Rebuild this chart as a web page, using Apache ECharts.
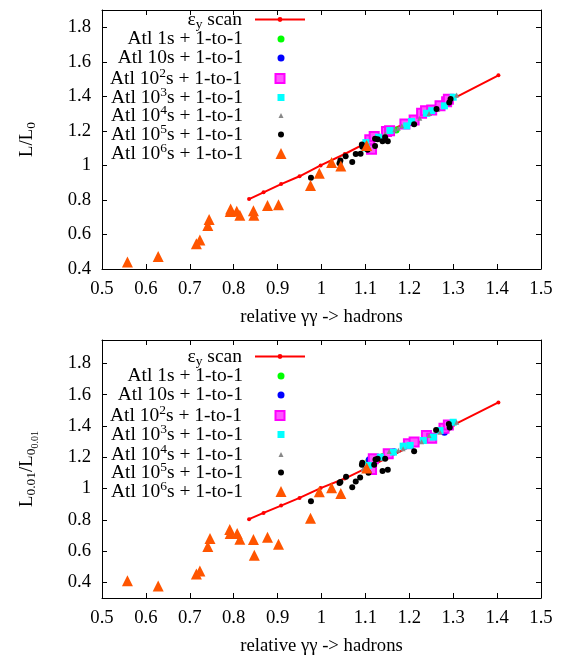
<!DOCTYPE html>
<html><head><meta charset="utf-8">
<script src="https://cdn.jsdelivr.net/npm/echarts@6/dist/echarts.min.js"></script>
<style>html,body{margin:0;padding:0;background:#fff}#c{width:564px;height:657px}</style>
</head><body><div id="c"></div>
<script>
// ---------- tick labels ----------
const xTicks = [0.5, 0.6, 0.7, 0.8, 0.9, 1.0, 1.1, 1.2, 1.3, 1.4, 1.5];
const yTicks = [0.4, 0.6, 0.8, 1.0, 1.2, 1.4, 1.6, 1.8];
const seriesNames = ['ε_y scan', 'Atl 1s + 1-to-1', 'Atl 10s + 1-to-1', 'Atl 10^2s + 1-to-1',
  'Atl 10^3s + 1-to-1', 'Atl 10^4s + 1-to-1', 'Atl 10^5s + 1-to-1', 'Atl 10^6s + 1-to-1'];

// ---------- eps_y scan ----------
const scanX    = [0.835, 0.868, 0.908, 0.950, 0.998, 1.053, 1.100, 1.150, 1.200, 1.250, 1.300, 1.403];
const scanTopY = [0.805, 0.844, 0.892, 0.937, 1.000, 1.066, 1.127, 1.192, 1.257, 1.322, 1.387, 1.522];
const scanBotY = [0.804, 0.844, 0.891, 0.940, 1.003, 1.064, 1.128, 1.197, 1.267, 1.336, 1.406, 1.551];

// ---------- top panel: L/L0 ----------
const top1s = [[1.108,1.148],[1.130,1.165],[1.170,1.205],[1.205,1.250],[1.250,1.310],[1.285,1.360]];
const top10s = [[1.109,1.150],[1.125,1.163],[1.160,1.200],[1.195,1.240],[1.209,1.245],[1.245,1.305],[1.275,1.345],[1.290,1.370]];
const top1e2 = [[1.114,1.094],[1.110,1.148],[1.120,1.167],[1.148,1.196],[1.155,1.200],[1.190,1.240],[1.211,1.263],[1.228,1.302],[1.237,1.317],[1.251,1.321],[1.270,1.345],[1.285,1.369],[1.289,1.383]];
const top1e3 = [[1.101,1.132],[1.103,1.100],[1.130,1.163],[1.156,1.202],[1.194,1.229],[1.205,1.254],[1.239,1.302],[1.251,1.317],[1.280,1.345],[1.300,1.395]];
const top1e4 = [[1.100,1.125],[1.145,1.183],[1.167,1.206],[1.175,1.215],[1.183,1.229],[1.224,1.273],[1.245,1.300],[1.265,1.325],[1.308,1.408]];
const top1e5 = [[0.976,0.928],[1.041,1.013],[1.043,1.028],[1.055,1.053],[1.070,1.019],[1.078,1.066],[1.089,1.068],[1.092,1.121],[1.093,1.108],[1.105,1.090],[1.122,1.155],[1.128,1.152],[1.122,1.113],[1.139,1.140],[1.145,1.163],[1.151,1.140],[1.211,1.238],[1.262,1.327],[1.291,1.364],[1.294,1.385]];
const top1e6 = [[0.558,0.440],[0.628,0.473],[0.715,0.546],[0.723,0.568],[0.741,0.652],[0.744,0.687],[0.792,0.733],[0.793,0.747],[0.807,0.735],[0.814,0.712],[0.845,0.737],[0.846,0.712],[0.877,0.768],[0.902,0.772],[0.975,0.884],[0.995,0.955],[1.023,1.017],[1.044,0.997],[1.103,1.115]];

// ---------- bottom panel: L0.01/L0_0.01 ----------
const bot1s = [[1.108,1.180],[1.140,1.205],[1.190,1.275],[1.250,1.330],[1.285,1.380]];
const bot10s = [[1.109,1.184],[1.125,1.195],[1.165,1.235],[1.200,1.285],[1.215,1.290],[1.255,1.335],[1.280,1.360],[1.290,1.395]];
const bot1e2 = [[1.114,1.122],[1.118,1.190],[1.152,1.222],[1.198,1.286],[1.211,1.297],[1.239,1.339],[1.251,1.322],[1.279,1.386],[1.289,1.407]];
const bot1e3 = [[1.107,1.148],[1.134,1.201],[1.164,1.233],[1.186,1.271],[1.202,1.276],[1.232,1.307],[1.255,1.329],[1.270,1.371],[1.300,1.424]];
const bot1e4 = [[1.095,1.127],[1.154,1.237],[1.175,1.245],[1.186,1.254],[1.228,1.300],[1.245,1.340],[1.270,1.360],[1.308,1.424]];
const bot1e5 = [[0.976,0.918],[1.041,1.035],[1.043,1.042],[1.056,1.076],[1.070,1.008],[1.078,1.045],[1.088,1.071],[1.092,1.152],[1.093,1.165],[1.107,1.101],[1.120,1.152],[1.123,1.186],[1.128,1.190],[1.139,1.112],[1.145,1.190],[1.151,1.120],[1.211,1.239],[1.261,1.375],[1.290,1.412],[1.292,1.390]];
const bot1e6 = [[0.558,0.411],[0.628,0.376],[0.715,0.453],[0.723,0.472],[0.741,0.629],[0.746,0.680],[0.791,0.738],[0.792,0.712],[0.808,0.712],[0.814,0.676],[0.845,0.674],[0.847,0.574],[0.877,0.689],[0.902,0.644],[0.975,0.810],[0.995,0.980],[1.023,1.005],[1.044,0.969],[1.103,1.131]];

// ---------- styling ----------
const FONT = 'Liberation Serif';
const scatterStyles = [
  {symbol: 'circle', size: 7, color: '#00ff00'},
  {symbol: 'circle', size: 7, color: '#0000ff'},
  {symbol: 'rect', size: 9, color: '#ff55ff', border: '#ff00ff', bw: 2},
  {symbol: 'rect', size: 7, color: '#00ffff'},
  {symbol: 'triangle', size: 5, color: '#888888'},
  {symbol: 'circle', size: 6, color: '#000000'},
  {symbol: 'triangle', size: 11, color: '#ff5500'}
];
// legend icon sizes (line entry uses a long sample)
const legendIconW = [50, 7, 7, 9, 7, 5, 6, 11];
const legendIconH = [6, 7, 7, 9, 7, 5, 6, 11];
const ICON_CX = 281, TEXT_RIGHT = 243, W = 564;

const richStyles = {
  sup: {fontFamily: FONT, fontSize: 13.5, color: '#000', padding: [0, 0, 11, 0], lineHeight: 22},
  sub: {fontFamily: FONT, fontSize: 13.5, color: '#000', padding: [9, 0, 0, 0], lineHeight: 22},
  subsub: {fontFamily: FONT, fontSize: 10, color: '#000', padding: [16, 0, 0, 0], lineHeight: 22}
};
function fmtName(n) {
  return n.replace(/\^(\d)/, '{sup|$1}').replace(/_y/, '{sub|y}');
}

function panel(gi, tops, scanY, sets) {
  const xi = gi * 2, yi = gi * 2;
  const s = [{
    type: 'line', name: seriesNames[0], xAxisIndex: xi, yAxisIndex: yi,
    data: scanX.map((x, i) => [x, scanY[i]]),
    symbol: 'circle', symbolSize: 4, showSymbol: true,
    lineStyle: {color: '#ff0000', width: 2}, itemStyle: {color: '#ff0000'}, z: 2
  }];
  sets.forEach((d, k) => {
    const st = scatterStyles[k];
    s.push({
      type: 'scatter', name: seriesNames[k + 1], xAxisIndex: xi, yAxisIndex: yi,
      data: d, symbol: st.symbol, symbolSize: st.size,
      itemStyle: {color: st.color, borderColor: st.border || st.color, borderWidth: st.bw || 0, opacity: 1},
      z: 3 + k
    });
  });
  const legends = seriesNames.map((n, i) => {
    const w = legendIconW[i];
    const iconLeft = ICON_CX - w / 2;
    return {
      data: [n], right: W - (ICON_CX + w / 2), top: tops[i] - 11, orient: 'horizontal', align: 'right',
      itemWidth: w, itemHeight: legendIconH[i], padding: 0, selectedMode: false, symbolKeepAspect: true,
      formatter: fmtName,
      textStyle: {fontFamily: FONT, fontSize: 19.5, color: '#000', lineHeight: 22,
        padding: [0, Math.max(0, iconLeft - 5 - TEXT_RIGHT), 0, 0], rich: richStyles}
    };
  });
  return {series: s, legends};
}

const topPanel = panel(0, [19, 39, 58, 77, 96, 114, 133, 152], scanTopY, [top1s, top10s, top1e2, top1e3, top1e4, top1e5, top1e6]);
const botPanel = panel(1, [356, 376, 395, 414, 433, 453, 471, 490], scanBotY, [bot1s, bot10s, bot1e2, bot1e3, bot1e4, bot1e5, bot1e6]);

const axLine = {show: true, lineStyle: {color: '#000', width: 1}};
function xAx(gi, pos, main) {
  return {
    type: 'value', gridIndex: gi, position: pos, min: 0.5, max: 1.5,
    axisLine: axLine,
    axisTick: {show: true, inside: true, length: 5, lineStyle: {color: '#000'}, customValues: xTicks},
    axisLabel: {show: main, fontFamily: FONT, fontSize: 18.7, color: '#000', margin: 11, customValues: xTicks},
    splitLine: {show: false},
    name: main ? 'relative γγ -> hadrons' : '', nameLocation: 'middle', nameGap: 39,
    nameTextStyle: {fontFamily: FONT, fontSize: 18.7, color: '#000'}
  };
}
function yAx(gi, pos, main, min, max, name) {
  return {
    type: 'value', gridIndex: gi, position: pos, min: min, max: max,
    axisLine: axLine,
    axisTick: {show: true, inside: true, length: 5, lineStyle: {color: '#000'}, customValues: yTicks},
    axisLabel: {show: main, fontFamily: FONT, fontSize: 18.7, color: '#000', margin: 11, customValues: yTicks},
    splitLine: {show: false},
    name: main ? name : '', nameLocation: 'middle', nameGap: 64, nameRotate: 90,
    nameTextStyle: {fontFamily: FONT, fontSize: 18.7, color: '#000', lineHeight: 22, rich: richStyles}
  };
}

const chart = echarts.init(document.getElementById('c'), null, {renderer: 'canvas'});
chart.setOption({
  animation: false,
  backgroundColor: '#fff',
  grid: [
    {left: 102, right: 23, top: 10, height: 259},
    {left: 102, right: 23, top: 340, height: 259}
  ],
  xAxis: [xAx(0, 'bottom', true), xAx(0, 'top', false), xAx(1, 'bottom', true), xAx(1, 'top', false)],
  yAxis: [
    yAx(0, 'left', true, 0.4, 1.9, 'L/L{sub|0}'),
    yAx(0, 'right', false, 0.4, 1.9, ''),
    yAx(1, 'left', true, 0.3, 1.95, 'L{sub|0.01}/L{sub|0}{subsub|0.01}'),
    yAx(1, 'right', false, 0.3, 1.95, '')
  ],
  legend: topPanel.legends.concat(botPanel.legends),
  series: topPanel.series.concat(botPanel.series)
});
</script></body></html>
